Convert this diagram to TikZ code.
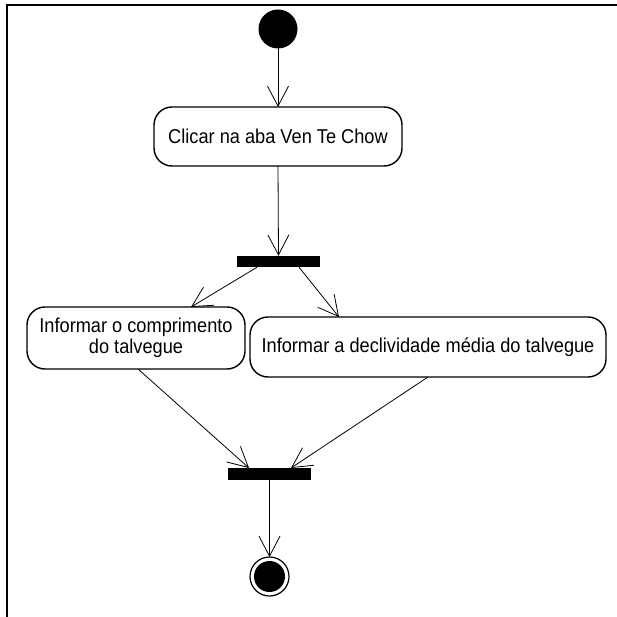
\documentclass[tikz,border=0pt]{standalone}
\usepackage{fontspec}
\setmainfont{Liberation Sans}
\usetikzlibrary{arrows.meta}
\newcommand{\tallt}[1]{\scalebox{1}[1.1]{#1}}
\begin{document}
\begin{tikzpicture}[x=1pt,y=-1pt,
  every node/.style={inner sep=0pt, outer sep=0pt},
  actbox/.style={draw, line width=1.4pt, rounded corners=18pt, align=center,
    font=\fontsize{18.2}{21}\selectfont},
  barnode/.style={fill=black, draw=none, minimum width=83pt, minimum height=11.5pt},
  flow/.style={line width=0.8pt, -{Straight Barb[length=20pt,width=21pt,line width=0.8pt]}}
]
\useasboundingbox (0,0) rectangle (617,617);
\draw[line width=2pt] (7,617) -- (7,5) -- (617,5);

\node[circle, fill=black, minimum size=39pt] (start) at (278,29) {};
\node[actbox, minimum width=248pt, minimum height=59pt] (a1) at (278,136.5) {\tallt{Clicar na aba Ven Te Chow}};
\node[barnode] (fork) at (278.5,261.5) {};
\node[actbox, minimum width=218pt, minimum height=62pt] (a2) at (136,338) {\tallt{Informar o comprimento}\\\tallt{do talvegue}};
\node[actbox, minimum width=356pt, minimum height=60pt] (a3) at (428,347) {\tallt{Informar a declividade média do talvegue}};
\node[barnode, minimum height=12pt] (join) at (269.5,474) {};
\node[circle, draw, line width=1.2pt, minimum size=39pt] (end) at (269.5,576.5) {};
\node[circle, fill=black, minimum size=31pt] (endin) at (end.center) {};

\draw[flow] (start.south) -- (a1.north);
\draw[flow] (a1.south) -- (fork.north);
\draw[flow] ([xshift=-21.5pt]fork.south) -- ([xshift=55pt]a2.north);
\draw[flow] ([xshift=20.5pt]fork.south) -- ([xshift=-89pt]a3.north);
\draw[flow] ([xshift=2pt]a2.south) -- ([xshift=-20.5pt]join.north);
\draw[flow] (a3.south) -- ([xshift=21.5pt]join.north);
\draw[flow] (join.south) -- (end.north);
\end{tikzpicture}
\end{document}
